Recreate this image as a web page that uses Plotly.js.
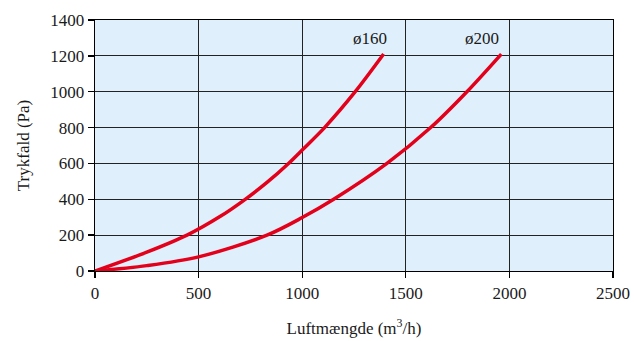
<!DOCTYPE html>
<html>
<head>
<meta charset="utf-8">
<script src="https://cdn.plot.ly/plotly-3.0.1.min.js"></script>
<style>html,body{margin:0;padding:0;background:#fff;}#chart{width:634px;height:341px;}</style>
</head>
<body>
<div id="chart"></div>
<script>
const flow160 = [0, 250, 444, 605, 725, 830, 934, 1000, 1108, 1256, 1393];
const drop160 = [0, 105, 200, 305, 400, 494, 600, 675, 800, 1000, 1210];
const flow200 = [0, 250, 500, 830, 1000, 1152, 1409, 1620, 1795, 1961];
const drop200 = [0, 30, 79, 200, 298, 400, 600, 800, 1000, 1210];
const seriesLabels = ['ø160', 'ø200'];
const xTicks = [0, 500, 1000, 1500, 2000, 2500];
const yTicks = [0, 200, 400, 600, 800, 1000, 1200, 1400];

const red = '#e2001a';
const font = {family: 'Liberation Serif', size: 17, color: '#1a1a1a'};

const traces = [
  {x: flow160, y: drop160, name: seriesLabels[0], mode: 'lines', line: {color: red, width: 3.5, shape: 'spline', smoothing: 0.9}},
  {x: flow200, y: drop200, name: seriesLabels[1], mode: 'lines', line: {color: red, width: 3.5, shape: 'spline', smoothing: 0.9}}
];

const layout = {
  width: 634, height: 341,
  margin: {l: 95, r: 21, t: 20, b: 70},
  paper_bgcolor: '#ffffff',
  plot_bgcolor: '#dff0fc',
  showlegend: false,
  font: font,
  xaxis: {
    range: [0, 2500], tickvals: xTicks, ticktext: xTicks.map(String),
    tickfont: font,
    showgrid: true, gridcolor: '#222', gridwidth: 1,
    showline: true, linecolor: '#000', linewidth: 1.3, mirror: true,
    ticks: 'outside', ticklen: 6, tickcolor: '#000', tickwidth: 1.3,
    zeroline: false, fixedrange: true,
    title: {text: 'Luftmængde (m<sup>3</sup>/h)', font: font, standoff: 20}
  },
  yaxis: {
    range: [0, 1400], tickvals: yTicks, ticktext: yTicks.map(String),
    tickfont: font,
    showgrid: true, gridcolor: '#222', gridwidth: 1,
    showline: true, linecolor: '#000', linewidth: 1.3, mirror: true,
    ticks: 'outside', ticklen: 6, tickcolor: '#000', tickwidth: 1.3,
    zeroline: false, fixedrange: true,
    title: {text: 'Trykfald (Pa)', font: font, standoff: 16}
  },
  annotations: [
    {x: flow160[flow160.length - 1], y: drop160[drop160.length - 1], text: seriesLabels[0], showarrow: false, xanchor: 'center', yanchor: 'bottom', xshift: -14, yshift: 4, font: font},
    {x: flow200[flow200.length - 1], y: drop200[drop200.length - 1], text: seriesLabels[1], showarrow: false, xanchor: 'center', yanchor: 'bottom', xshift: -19, yshift: 4, font: font}
  ]
};

Plotly.newPlot('chart', traces, layout, {displayModeBar: false, staticPlot: true});
</script>
</body>
</html>
